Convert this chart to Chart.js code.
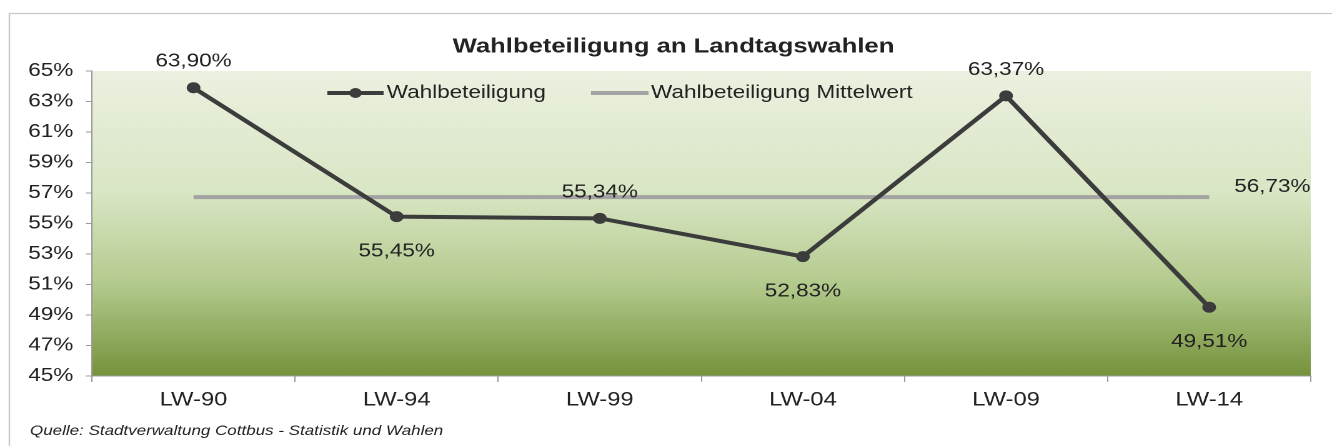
<!DOCTYPE html>
<html lang="de">
<head>
<meta charset="utf-8">
<title>Wahlbeteiligung an Landtagswahlen</title>
<script src="https://cdn.jsdelivr.net/npm/chart.js@4.4.1/dist/chart.umd.min.js"></script>
<style>
  html, body { margin: 0; padding: 0; background: #fff; overflow: hidden; }
  #wrap { width: 1066px; height: 446px; transform-origin: 0 0; }
</style>
</head>
<body>
<div id="wrap"><canvas id="chart" width="1066" height="446"></canvas></div>
<script>
// Turnout at the state elections (Landtagswahlen), Cottbus
const categories = ['LW-90', 'LW-94', 'LW-99', 'LW-04', 'LW-09', 'LW-14'];
const turnout = [63.90, 55.45, 55.34, 52.83, 63.37, 49.51];
const turnoutMean = 56.73;
const yRange = [45, 65];
const yStep = 2;

// where each value label sits relative to its point
const labelSide = ['above', 'below', 'above', 'below', 'above', 'below'];

// canvas is drawn narrower and stretched to the page width
const PAGE_W = 1332;
const CANVAS_W = 1066;
document.getElementById('wrap').style.transform = `scaleX(${PAGE_W / CANVAS_W})`;

const FONT = '"Liberation Sans", Arial, sans-serif';
const INK = '#222';
const LINE_DARK = '#3c3c3c';
const LINE_GREY = '#a3a3a3';

Chart.defaults.font.family = FONT;
Chart.defaults.color = INK;

const fmt = v => v.toFixed(2).replace('.', ',') + '%';

const backdrop = {
  id: 'backdrop',
  beforeDraw(chart) {
    const { ctx, chartArea: a } = chart;
    ctx.save();
    ctx.strokeStyle = '#c8c8c8';
    ctx.lineWidth = 1.2;
    ctx.beginPath();
    ctx.moveTo(7.5, chart.height);
    ctx.lineTo(7.5, 13.5);
    ctx.lineTo(chart.width, 13.5);
    ctx.stroke();

    const g = ctx.createLinearGradient(0, a.top, 0, a.bottom);
    g.addColorStop(0, '#ebf1e0');
    g.addColorStop(0.4, '#d9e6c4');
    g.addColorStop(0.7, '#b3ca8d');
    g.addColorStop(1, '#75923b');
    ctx.fillStyle = g;
    ctx.fillRect(a.left, a.top, a.right - a.left, a.bottom - a.top);
    ctx.restore();
  }
};

const valueLabels = {
  id: 'valueLabels',
  afterDatasetsDraw(chart) {
    const { ctx } = chart;
    ctx.save();
    ctx.font = `18px ${FONT}`;
    ctx.fillStyle = INK;
    ctx.textAlign = 'center';
    ctx.textBaseline = 'middle';
    chart.getDatasetMeta(0).data.forEach((pt, i) => {
      const dy = labelSide[i] === 'above' ? -26 : 35;
      ctx.fillText(fmt(turnout[i]), pt.x, pt.y + dy);
    });
    const meanPts = chart.getDatasetMeta(1).data;
    const last = meanPts[meanPts.length - 1];
    ctx.textAlign = 'left';
    ctx.fillText(fmt(turnoutMean), last.x + 20, last.y - 10);
    ctx.restore();
  }
};

const annotations = {
  id: 'annotations',
  afterDraw(chart) {
    const { ctx } = chart;
    ctx.save();
    ctx.fillStyle = INK;
    ctx.textBaseline = 'middle';

    ctx.font = `bold 20.5px ${FONT}`;
    ctx.textAlign = 'center';
    ctx.fillText('Wahlbeteiligung an Landtagswahlen', 539, 47);

    // legend
    const ly = 93;
    ctx.lineWidth = 4;
    ctx.strokeStyle = LINE_DARK;
    ctx.beginPath();
    ctx.moveTo(262, ly);
    ctx.lineTo(307, ly);
    ctx.stroke();
    ctx.fillStyle = LINE_DARK;
    ctx.beginPath();
    ctx.arc(284.5, ly, 5, 0, Math.PI * 2);
    ctx.fill();
    ctx.strokeStyle = LINE_GREY;
    ctx.beginPath();
    ctx.moveTo(473, ly);
    ctx.lineTo(519, ly);
    ctx.stroke();

    ctx.fillStyle = INK;
    ctx.font = `18px ${FONT}`;
    ctx.textAlign = 'left';
    ctx.fillText('Wahlbeteiligung', 309.5, ly);
    ctx.fillText('Wahlbeteiligung Mittelwert', 521, ly);

    ctx.font = `italic 13.6px ${FONT}`;
    ctx.fillText('Quelle: Stadtverwaltung Cottbus - Statistik und Wahlen', 24, 431);
    ctx.restore();
  }
};

new Chart(document.getElementById('chart'), {
  type: 'line',
  data: {
    labels: categories,
    datasets: [
      {
        label: 'Wahlbeteiligung',
        data: turnout,
        borderColor: LINE_DARK,
        backgroundColor: LINE_DARK,
        borderWidth: 4,
        pointRadius: 5.5,
        pointBorderWidth: 0,
        tension: 0
      },
      {
        label: 'Wahlbeteiligung Mittelwert',
        data: categories.map(() => turnoutMean),
        borderColor: LINE_GREY,
        borderWidth: 4,
        pointRadius: 0,
        tension: 0
      }
    ]
  },
  options: {
    responsive: false,
    devicePixelRatio: 2,
    animation: false,
    layout: { padding: { top: 71, right: 17, left: 0, bottom: 0 } },
    plugins: {
      legend: { display: false },
      title: { display: false },
      tooltip: { enabled: false }
    },
    scales: {
      x: {
        offset: true,
        grid: { offset: true, drawOnChartArea: false, tickLength: 6, color: '#9a9a9a' },
        border: { color: '#9a9a9a', width: 1 },
        ticks: { font: { size: 19 }, color: INK, padding: 7 },
        afterFit: s => { s.height = 70; }
      },
      y: {
        min: yRange[0],
        max: yRange[1],
        grid: { drawOnChartArea: false, tickLength: 5, color: '#9a9a9a' },
        border: { color: '#9a9a9a', width: 1 },
        ticks: {
          stepSize: yStep,
          font: { size: 18 },
          color: INK,
          padding: 10,
          callback: v => v + '%'
        },
        afterFit: s => { s.width = 73.6; }
      }
    }
  },
  plugins: [backdrop, valueLabels, annotations]
});
</script>
</body>
</html>
